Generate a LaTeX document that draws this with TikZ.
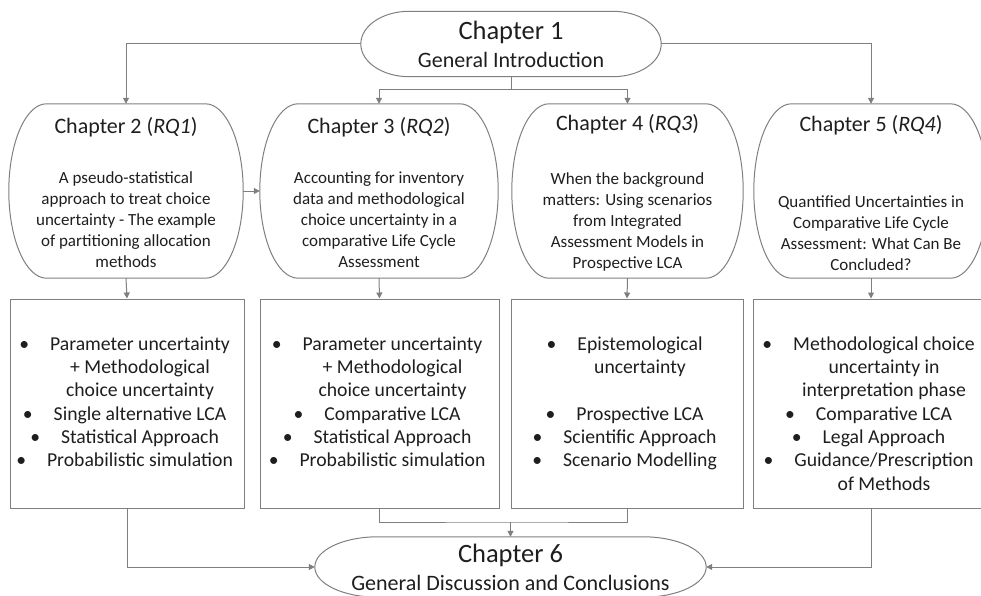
\documentclass[tikz,border=0pt]{standalone}
\usepackage{fontspec}
\setmainfont{Carlito}
\usepackage{xcolor}
\usetikzlibrary{arrows.meta, positioning, calc}
\definecolor{linegray}{HTML}{7F7F7F}
\definecolor{textdark}{HTML}{1E1E1E}
\newcommand{\itembullet}{\llap{\textbullet\hspace{21pt}}}

\begin{document}
\begin{tikzpicture}[
  x=1pt, y=-1pt,
  chapter/.style={
    rectangle, inner sep=0pt, text=textdark, align=center,
    font=\fontsize{22}{28}\selectfont
  },
  chapbox/.style={
    rectangle, inner sep=0pt,
    minimum width=234pt, minimum height=174pt
  },
  title/.style={anchor=north, yshift=-13pt, inner sep=0pt,
    text=textdark, font=\fontsize{22}{26}\selectfont},
  summary/.style={anchor=south, yshift=10pt, inner sep=0pt,
    text=textdark, align=center, font=\fontsize{17}{21}\selectfont},
  listbox/.style={
    rectangle, draw=linegray, line width=1pt,
    minimum width=234pt, minimum height=209pt
  },
  items/.style={anchor=north, yshift=-38pt, xshift=13pt, inner sep=0pt,
    text=textdark, align=center, font=\fontsize{19.7}{23.3}\selectfont},
  outline/.style={draw=linegray, line width=1pt},
  arrow/.style={-{Triangle[length=6pt,width=6pt]}, line width=1pt, color=linegray},
  link/.style={line width=1pt, color=linegray}
]
\useasboundingbox (0,0) rectangle (981,596);

% Introduction
\node[chapter, minimum width=300pt, minimum height=65pt] (ch1) at (511,44)
      {{\fontsize{26.5}{30}\selectfont Chapter 1}\\General Introduction};

% Research chapters
\node[chapbox, label={[title]north:Chapter 2 (\textit{RQ1})},
      label={[summary]south:{A pseudo-statistical\\approach to treat choice\\uncertainty - The example\\of partitioning allocation\\methods}}]
      (ch2) at (126,191) {};
\node[chapbox, minimum width=238pt, label={[title]north:Chapter 3 (\textit{RQ2})},
      label={[summary]south:{Accounting for inventory\\data and methodological\\choice uncertainty in a\\comparative Life Cycle\\Assessment}}]
      (ch3) at (379,191) {};
\node[chapbox, minimum width=231pt, label={[title, yshift=3pt]north:Chapter 4 (\textit{RQ3})},
      label={[summary, yshift=-3pt]south:{When the background\\matters: Using scenarios\\from Integrated\\Assessment Models in\\Prospective LCA}}]
      (ch4) at (627.5,191) {};
\node[chapbox, label={[title, yshift=2pt]north:Chapter 5 (\textit{RQ4})},
      label={[summary, yshift=-3pt]south:{Quantified Uncertainties in\\Comparative Life Cycle\\Assessment: What Can Be\\Concluded?}}]
      (ch5) at (871,191) {};

% Key characteristics
\node[listbox, label={[items]north:{\itembullet Parameter uncertainty\\+ Methodological\\choice uncertainty\\\itembullet Single alternative LCA\\\itembullet Statistical Approach\\\itembullet Probabilistic simulation}}]
      (box2) at (127,403.5) {};
\node[listbox, minimum width=239pt, label={[items]north:{\itembullet Parameter uncertainty\\+ Methodological\\choice uncertainty\\\itembullet Comparative LCA\\\itembullet Statistical Approach\\\itembullet Probabilistic simulation}}]
      (box3) at (379.5,403.5) {};
\node[listbox, minimum width=232pt, label={[items]north:{\itembullet Epistemological\\uncertainty\\[23.3pt]\itembullet Prospective LCA\\\itembullet Scientific Approach\\\itembullet Scenario Modelling}}]
      (box4) at (627,403.5) {};
\node[listbox, minimum width=236pt, label={[items]north:{\itembullet Methodological choice\\uncertainty in\\interpretation phase\\\itembullet Comparative LCA\\\itembullet Legal Approach\\\itembullet Guidance/Prescription\\of Methods}}]
      (box5) at (871,403.5) {};

% Discussion
\node[chapter, minimum width=391pt, minimum height=60pt, text depth=-5pt] (ch6) at (510.5,567)
      {{\fontsize{26.5}{30}\selectfont Chapter 6}\\General Discussion and Conclusions};

% Terminator outlines
\foreach \c in {ch1,ch2,ch3,ch4,ch5,ch6}{
  \draw[outline] let \p1=(\c.north west), \p2=(\c.south east),
        \n1={0.161*(\x2-\x1)}, \n2={(\y1-\y2)/2} in
    ({\x1+\n1},\y1) -- ({\x2-\n1},\y1)
    arc[start angle=90, end angle=-90, x radius=\n1, y radius=\n2]
    -- ({\x1+\n1},\y2)
    arc[start angle=270, end angle=90, x radius=\n1, y radius=\n2] -- cycle;
}

% Arrows from introduction
\draw[arrow] (ch1.west) -| (ch2.north);
\draw[arrow] (ch1.east) -| (ch5.north);
\draw[arrow] (ch1.south) -- ++(0,13) -| (ch3.north);
\draw[arrow] (ch1.south) -- ++(0,13) -| (ch4.north);
\draw[arrow] (ch2.east) -- (ch3.west);

% Chapters to characteristics
\foreach \n in {2,3,4,5}{
  \draw[arrow] (ch\n.south) -- (box\n.north);
}

% Characteristics to discussion
\coordinate (merge) at (ch6.north |- 0,522);
\draw[arrow] (box2.south) |- (ch6.west);
\draw[arrow] (box5.south) |- (ch6.east);
\draw[link] (box3.south) |- (merge) -| (box4.south);
\draw[arrow] (merge) -- (ch6.north);

\end{tikzpicture}
\end{document}
